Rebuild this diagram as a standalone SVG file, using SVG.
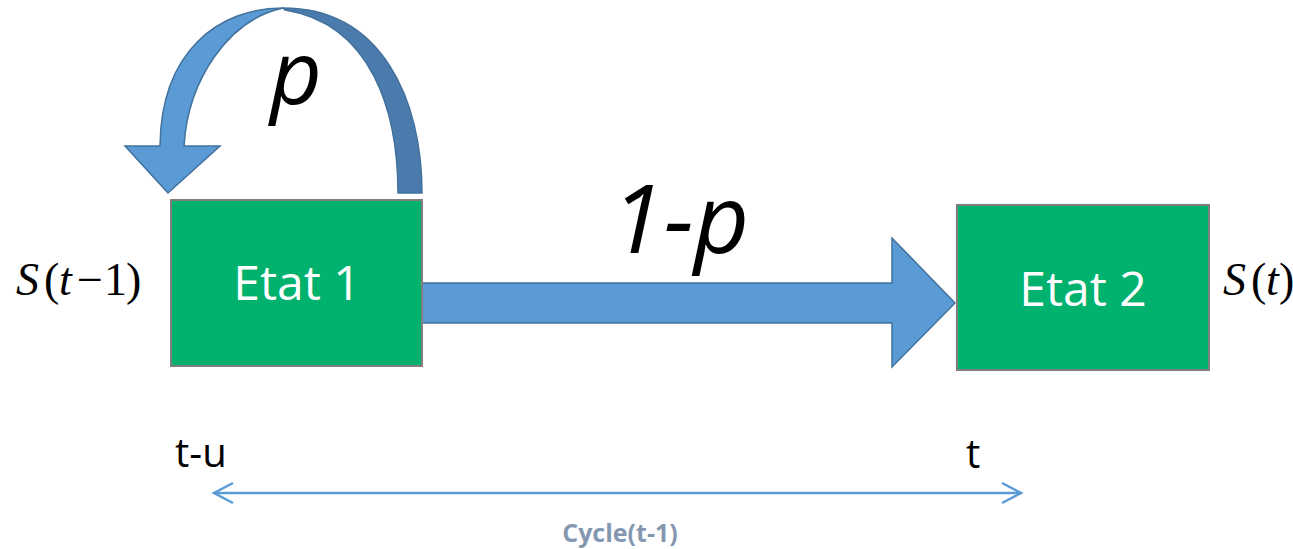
<svg xmlns="http://www.w3.org/2000/svg" width="1293" height="549" viewBox="0 0 1293 549">
  <defs>
    <style>
      .state { fill: #00B26E; stroke: #7F7F7F; stroke-width: 2; }
      .state-label { font-family: "Open Sans", "Liberation Sans", sans-serif; font-size: 48px; fill: #FFFFFF; text-anchor: middle; }
      .prob { font-family: "Open Sans", "Liberation Sans", sans-serif; font-style: italic; fill: #000000; text-anchor: middle; }
      .math { font-family: "Liberation Serif", "Times New Roman", serif; font-size: 46px; fill: #000000; }
      .math .it { font-style: italic; }
      .time { font-family: "Open Sans", "Liberation Sans", sans-serif; font-size: 40px; fill: #000000; }
      .cycle { font-family: "Open Sans", "Liberation Sans", sans-serif; font-weight: bold; font-size: 25px; fill: #8497B0; text-anchor: middle; }
      .block-arrow { stroke: #41719C; stroke-width: 1.5; stroke-linejoin: miter; }
      .span-line { stroke: #5B9BD5; stroke-width: 2.5; fill: none; }
    </style>
    <marker id="chevron" markerUnits="userSpaceOnUse" markerWidth="24" markerHeight="26" refX="21" refY="12" orient="auto-start-reverse" viewBox="0 0 24 26">
      <path d="M2,2 L21,12 L2,22" fill="none" stroke="#5B9BD5" stroke-width="2.5"/>
    </marker>
  </defs>

  <!-- transitions -->
  <g id="connectors">
    <!-- self loop p : back half (dark) then front half (light) with head -->
    <path class="block-arrow" fill="#4A7BAC" d="M283,8 C382,8 422,100 422,193 L398,193 C398,112 372,24 285,10 Z"/>
    <path class="block-arrow" fill="#5B9BD5" d="M125,146 L160,146 C161,50 220,8 283,8 C228,20 188,80 184,146 L220,146 L168,193 Z"/>
    <!-- transition 1-p -->
    <path class="block-arrow" fill="#5B9BD5" d="M422,283 L892,283 L892,238 L955,303 L892,367 L892,323 L422,323 Z"/>
    <!-- time span -->
    <line class="span-line" x1="214" y1="493" x2="1021" y2="493" marker-start="url(#chevron)" marker-end="url(#chevron)"/>
  </g>

  <g id="state1">
    <rect class="state" x="171" y="200" width="251" height="166"/>
    <text class="state-label" x="297" y="300">Etat 1</text>
  </g>

  <g id="state2">
    <rect class="state" x="957" y="205" width="252" height="165"/>
    <text class="state-label" x="1083" y="306">Etat 2</text>
  </g>

  <g id="labels">
    <text class="prob" x="296" y="104" font-size="90">p</text>
    <text class="prob" x="680" y="253" font-size="96">1-p</text>

    <text class="math" y="295"><tspan class="it" x="16">S</tspan><tspan x="44">(</tspan><tspan class="it" x="59">t</tspan><tspan x="77">−</tspan><tspan x="104">1</tspan><tspan x="126">)</tspan></text>
    <text class="math" y="295"><tspan class="it" x="1223">S</tspan><tspan x="1251">(</tspan><tspan class="it" x="1266">t</tspan><tspan x="1279">)</tspan></text>

    <text class="time" x="175" y="467">t-u</text>
    <text class="time" x="966" y="468">t</text>
    <text class="cycle" x="620" y="542">Cycle(t-1)</text>
  </g>
</svg>
